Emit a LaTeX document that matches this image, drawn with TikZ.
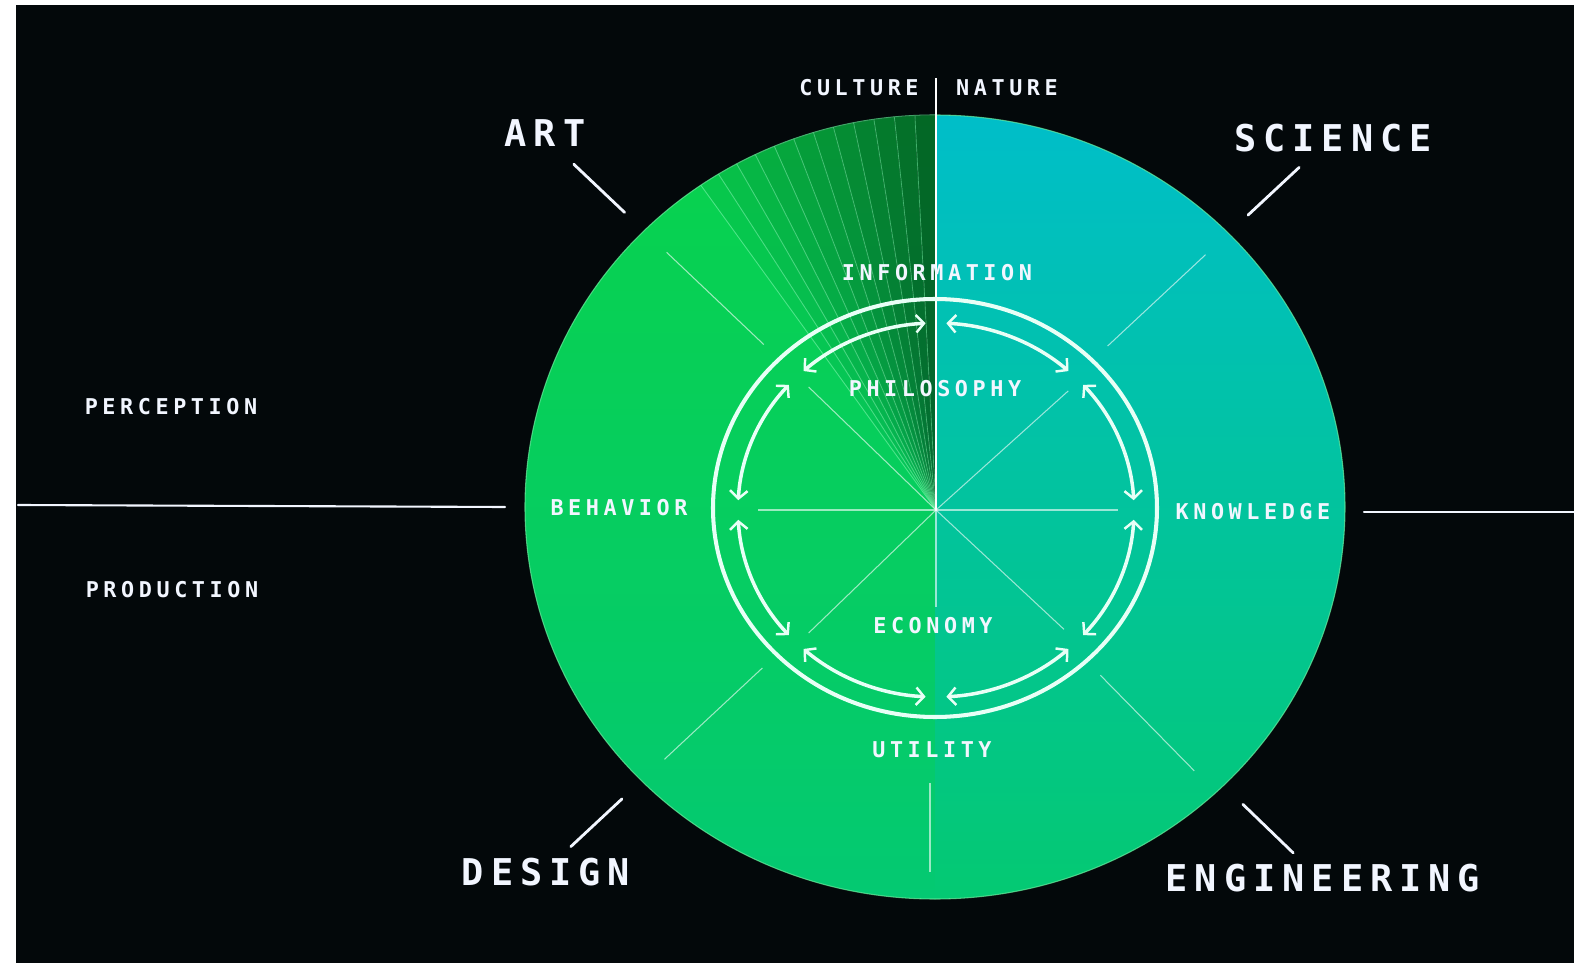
\documentclass[tikz,border=0pt]{standalone}
\usepackage{fontspec}
\usepackage{tikz}
\usetikzlibrary{arrows.meta,calc}
\definecolor{fondnoir}{HTML}{03080A}
\definecolor{vertgauche}{HTML}{08D24C}
\definecolor{cyanhaut}{HTML}{00BEC9}
\definecolor{basdisque}{HTML}{04C972}
\definecolor{blanccycle}{HTML}{E8FFF6}
\definecolor{blanctexte}{HTML}{F2F6FF}
\definecolor{bordvert}{HTML}{6CF0A0}
\newfontfamily\labfont{DejaVu Sans Mono}[LetterSpace=21]
\newfontfamily\labfontbig{DejaVu Sans Mono}[LetterSpace=19]
\newcommand{\lblsmall}{\labfont\bfseries\fontsize{12.4}{14}\selectfont}
\newcommand{\lblbig}{\labfontbig\bfseries\fontsize{21}{24}\selectfont}

\begin{document}
\begin{tikzpicture}[x=0.02cm, y=0.02cm,
    petit/.style={text=blanctexte, font=\lblsmall, inner sep=0pt},
    grand/.style={text=blanctexte, font=\lblbig, inner sep=0pt},
    rayon/.style={line width=0.6pt, white, opacity=0.6},
    repere/.style={line width=1.6pt, blanctexte, line cap=round},
    fleche/.style={<->, >={Straight Barb[length=4.5pt,width=10pt,line width=1.4pt]},
      line width=2pt, blanccycle}
  ]
    \useasboundingbox (-935,-456) rectangle (639,507);
    % fond
    \fill[white] (-935,-456) rectangle (639,507);
    \fill[fondnoir] (-919,-456) rectangle (639,502);
    \coordinate (o) at (0,0);
    \coordinate (hub) at (1,-3);
    % disque : deux moitiés
    \shade[top color=vertgauche, bottom color=basdisque] (0,392)
      arc[start angle=90, end angle=270, x radius=410, y radius=392] -- cycle;
    \shade[top color=cyanhaut, bottom color=basdisque] (0,-392)
      arc[start angle=270, end angle=450, x radius=410, y radius=392] -- cycle;
    \draw[bordvert, line width=0.6pt, opacity=0.7] (o) ellipse [x radius=410, y radius=392];
    % éventail
    \begin{scope}
      \clip (0,392) arc[start angle=90, end angle=270, x radius=410, y radius=392] -- cycle;
      \foreach \k in {0,...,11} {
        \pgfmathsetmacro{\op}{0.5*(1-\k/12)}
        \fill[black, opacity=\op] (hub) -- (90+3*\k:600) -- (93+3*\k:600) -- cycle;
        \draw[bordvert, line width=0.5pt, opacity=0.7] (hub) -- (93+3*\k:600);
      }
    \end{scope}
    % séparation culture / nature
    \draw[white, line width=1pt] (1,429) -- (hub);
    % rayons
    \foreach \a/\r in {0/182,42/178,136/177,180/178,224/177,317/175,270/97}
      \draw[rayon] (hub) -- ++(\a:\r);
    \foreach \a in {136.5,43,223,314.5}
      \draw[rayon] (\a:236) -- (\a:370);
    \draw[rayon] (-5,-276) -- (-5,-365);
    % anneau et cycle
    \draw[blanccycle, line width=2.3pt] (0,-1) ellipse [x radius=222, y radius=209];
    \foreach \a in {0,45,...,315}
      \draw[fleche] ($(hub)+(\a+3:198 and 187)$)
        arc[start angle=\a+3, end angle=\a+42, x radius=198, y radius=187];
    % repères extérieurs
    \foreach \a in {136.5,43,223,316}
      \draw[repere] (\a:428) -- (\a:498);
    \draw[repere, line width=1.2pt] (-917,2) -- (-430,0);
    \draw[repere, line width=1.2pt] (429,-5) -- (639,-5);
    % textes
    \node[petit] (culture) at (-76,419) {CULTURE};
    \node[petit] (nature) at (72,419) {NATURE};
    \node[grand] (art) at (-390,374) {ART};
    \node[grand] (science) at (398,369) {SCIENCE};
    \node[grand] (design) at (-389,-365) {DESIGN};
    \node[grand] (engineering) at (388,-371) {ENGINEERING};
    \node[petit] (perception) at (-764,100) {PERCEPTION};
    \node[petit] (production) at (-763,-83) {PRODUCTION};
    \node[petit] (information) at (2,234) {INFORMATION};
    \node[petit] (philosophy) at (0,118) {PHILOSOPHY};
    \node[petit] (behavior) at (-316,-1) {BEHAVIOR};
    \node[petit] (knowledge) at (318,-5) {KNOWLEDGE};
    \node[petit] (economy) at (-2,-119) {ECONOMY};
    \node[petit] (utility) at (-3,-243) {UTILITY};
  \end{tikzpicture}
\end{document}
